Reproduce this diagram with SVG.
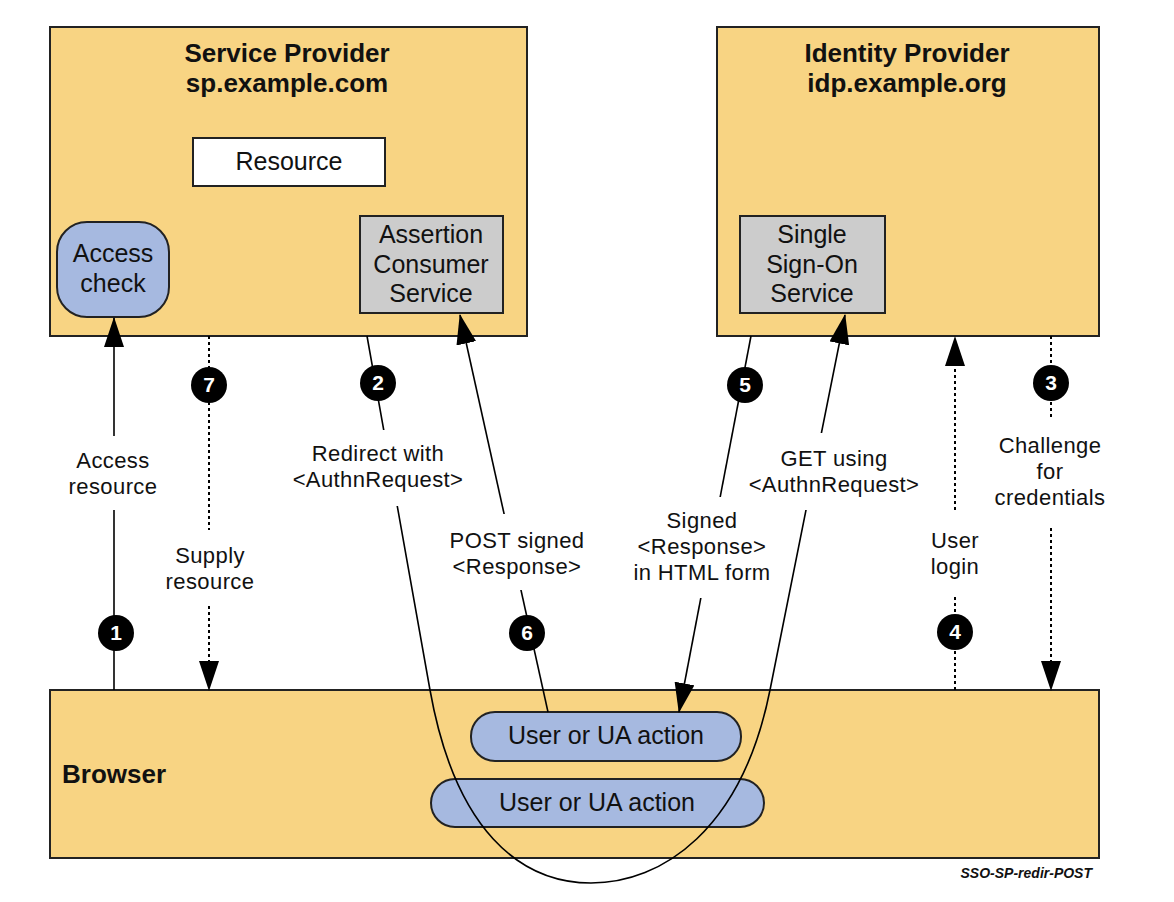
<svg xmlns="http://www.w3.org/2000/svg" width="1174" height="902" viewBox="0 0 1174 902">
<defs>
<style>
.box{fill:#F8D483;stroke:#222;stroke-width:2}
.gray{fill:#CCCCCC;stroke:#222;stroke-width:2}
.blue{fill:#A6B9E0;stroke:#222;stroke-width:2}
.white{fill:#FFFFFF;stroke:#222;stroke-width:2}
.title{font-family:"Liberation Sans",Arial,sans-serif;font-weight:bold;font-size:26px;fill:#111;text-anchor:middle}
.node{font-family:"Liberation Sans",Arial,sans-serif;font-size:25px;fill:#111;text-anchor:middle}
.lbl{font-family:"Liberation Sans",Arial,sans-serif;font-size:22px;letter-spacing:0.4px;fill:#111;text-anchor:middle}
.bg{fill:#FFFFFF}
.ln{fill:none;stroke:#000;stroke-width:1.6}
.dot{fill:none;stroke:#000;stroke-width:2;stroke-dasharray:3 3}
.num{fill:#000}
.numt{font-family:"Liberation Sans",Arial,sans-serif;font-weight:bold;font-size:21px;fill:#fff;text-anchor:middle}
</style>
<marker id="ah" markerUnits="userSpaceOnUse" markerWidth="30" markerHeight="20" refX="29" refY="10" orient="auto">
<path d="M0,0 L30,10 L0,20 z" fill="#000"/>
</marker>
</defs>
<rect x="0" y="0" width="1174" height="902" fill="#FFFFFF"/>

<g id="sp">
<rect class="box" x="50" y="27" width="477" height="309"/>
<text class="title" x="287" y="62">Service Provider</text>
<text class="title" x="287" y="92">sp.example.com</text>
</g>
<g id="resource">
<rect class="white" x="193" y="138" width="192" height="48"/>
<text class="node" x="289" y="170">Resource</text>
</g>
<g id="access-check">
<rect class="blue" x="57" y="222" width="112" height="95" rx="30" ry="30"/>
<text class="node" x="113" y="262">Access</text>
<text class="node" x="113" y="292">check</text>
</g>
<g id="acs">
<rect class="gray" x="360" y="216" width="143" height="97"/>
<text class="node" x="431" y="243">Assertion</text>
<text class="node" x="431" y="273">Consumer</text>
<text class="node" x="431" y="302">Service</text>
</g>

<g id="idp">
<rect class="box" x="717" y="27" width="382" height="309"/>
<text class="title" x="907" y="62">Identity Provider</text>
<text class="title" x="907" y="92">idp.example.org</text>
</g>
<g id="sso">
<rect class="gray" x="740" y="216" width="145" height="97"/>
<text class="node" x="812" y="243">Single</text>
<text class="node" x="812" y="273">Sign-On</text>
<text class="node" x="812" y="302">Service</text>
</g>

<g id="browser">
<rect class="box" x="50" y="690" width="1049" height="168"/>
<text class="title" x="62" y="783" style="text-anchor:start">Browser</text>
</g>
<g id="ua-action-1">
<rect class="blue" x="471" y="712" width="270" height="49" rx="24" ry="24"/>
<text class="node" x="606" y="744">User or UA action</text>
</g>
<g id="ua-action-2">
<rect class="blue" x="431" y="779" width="333" height="48" rx="24" ry="24"/>
<text class="node" x="597" y="811">User or UA action</text>
</g>

<g id="connectors">
<line class="ln" x1="114" y1="690" x2="114" y2="318" marker-end="url(#ah)"/>
<line class="dot" x1="209" y1="336" x2="209" y2="690" marker-end="url(#ah)"/>
<path class="ln" d="M367,336 L430,690 C455,830 520,883 591,883 C662,883 742,830 770,690 L845,315" marker-end="url(#ah)"/>
<line class="dot" x1="1051" y1="336" x2="1051" y2="690" marker-end="url(#ah)"/>
<line class="dot" x1="955" y1="690" x2="955" y2="337" marker-end="url(#ah)"/>
<line class="ln" x1="751" y1="336" x2="679" y2="712" marker-end="url(#ah)"/>
<line class="ln" x1="548" y1="712" x2="460" y2="315" marker-end="url(#ah)"/>
</g>

<g id="labels">
<rect class="bg" x="62" y="436" width="103" height="74"/>
<text class="lbl" x="113" y="468">Access</text>
<text class="lbl" x="113" y="494">resource</text>

<rect class="bg" x="160" y="530" width="100" height="75"/>
<text class="lbl" x="210" y="563">Supply</text>
<text class="lbl" x="210" y="589">resource</text>

<rect class="bg" x="286" y="430" width="184" height="76"/>
<text class="lbl" x="378" y="461">Redirect with</text>
<text class="lbl" x="378" y="487">&lt;AuthnRequest&gt;</text>

<rect class="bg" x="442" y="514" width="150" height="76"/>
<text class="lbl" x="517" y="548">POST signed</text>
<text class="lbl" x="517" y="574">&lt;Response&gt;</text>

<rect class="bg" x="628" y="497" width="148" height="101"/>
<text class="lbl" x="702" y="528">Signed</text>
<text class="lbl" x="702" y="554">&lt;Response&gt;</text>
<text class="lbl" x="702" y="580">in HTML form</text>

<rect class="bg" x="772" y="433" width="154" height="77"/>
<text class="lbl" x="834" y="466">GET using</text>
<text class="lbl" x="834" y="492">&lt;AuthnRequest&gt;</text>

<rect class="bg" x="925" y="510" width="60" height="85"/>
<text class="lbl" x="955" y="548">User</text>
<text class="lbl" x="955" y="574">login</text>

<rect class="bg" x="988" y="420" width="124" height="107"/>
<text class="lbl" x="1050" y="453">Challenge</text>
<text class="lbl" x="1050" y="479">for</text>
<text class="lbl" x="1050" y="505">credentials</text>
</g>

<g id="steps">
<circle class="num" cx="116" cy="633" r="18"/><text class="numt" x="116" y="640">1</text>
<circle class="num" cx="378" cy="383" r="18"/><text class="numt" x="378" y="390">2</text>
<circle class="num" cx="1051" cy="383" r="18"/><text class="numt" x="1051" y="390">3</text>
<circle class="num" cx="955" cy="632" r="18"/><text class="numt" x="955" y="639">4</text>
<circle class="num" cx="745" cy="385" r="18"/><text class="numt" x="745" y="392">5</text>
<circle class="num" cx="527" cy="633" r="18"/><text class="numt" x="527" y="640">6</text>
<circle class="num" cx="209" cy="385" r="18"/><text class="numt" x="209" y="392">7</text>
</g>

<text x="1092" y="878" style="font-family:'Liberation Sans',Arial,sans-serif;font-weight:bold;font-style:italic;font-size:14px;fill:#111;text-anchor:end">SSO-SP-redir-POST</text>
</svg>
